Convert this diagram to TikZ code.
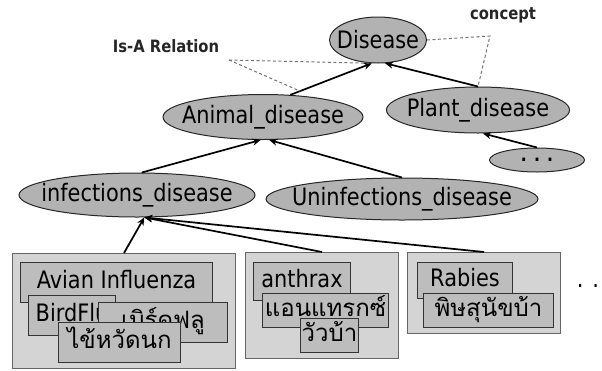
\documentclass[tikz,border=0pt]{standalone}
\usepackage{fontspec}
\setmainfont{DejaVu Sans}[FakeStretch=0.87]
\newfontfamily\thaifont[Script=Thai]{Loma}
\usepackage{xcolor}
\usetikzlibrary{arrows.meta, shapes.geometric}
\newcommand{\ctext}[1]{\makebox[0pt]{#1}}

\begin{document}
\begin{tikzpicture}[
  x=1pt, y=-1pt,
  font=\fontsize{24}{26}\selectfont,
  >={Stealth[length=8pt, width=7pt]},
  concept/.style={ellipse, draw=black!85, line width=1pt, fill=black!30, inner sep=0pt},
  isa/.style={->, line width=1.7pt},
  grp/.style={draw=black!60, line width=1pt, fill=black!17, anchor=north west, inner sep=0pt},
  term/.style={draw=black!80, line width=1pt, fill=black!26, anchor=north west,
               inner sep=0pt, text height=17pt, text depth=5pt},
  thai/.style={font=\thaifont\fontsize{24}{26}\selectfont},
  note/.style={font=\bfseries\fontsize{17}{19}\selectfont, text=black!85},
  hint/.style={black!55, line width=1pt, dash pattern=on 3pt off 2.5pt},
]
\useasboundingbox (0,0) rectangle (602,370);
% Level 1: root concept
\node[concept, minimum width=97pt, minimum height=46pt] (disease) at (378,40) {\ctext{Disease}};
% Level 2
\node[concept, minimum width=200pt, minimum height=45pt] (animal) at (263,117) {\ctext{Animal\_disease}};
\node[concept, minimum width=183pt, minimum height=46pt] (plant) at (478,110) {\ctext{Plant\_disease}};
\node[concept, minimum width=95pt, minimum height=24pt] (more) at (537,160)
      {\ctext{\bfseries\fontsize{18}{18}\selectfont . . .}};
% Level 3
\node[concept, minimum width=236pt, minimum height=44pt] (infect) at (137,195) {\ctext{infections\_disease}};
\node[concept, minimum width=272pt, minimum height=42pt] (uninfect) at (402,199) {\ctext{Uninfections\_disease}};
% instance groups
\node[grp, minimum width=223pt, minimum height=115pt] (grp1) at (12,253) {};
\node[term, minimum width=192pt, minimum height=40pt] (avian) at (20,262) {Avian Influenza};
\node[term, minimum width=87pt, minimum height=40pt] (birdflu) at (28,295) {BirdFlu};
\node[term, thai, minimum width=129pt, minimum height=40pt] (birdth) at (98,302) {เบิร์ดฟลู};
\node[term, thai, minimum width=122pt, minimum height=40pt] (avianth) at (58,322) {ไข้หวัดนก};

\node[grp, minimum width=153pt, minimum height=106pt] (grp2) at (245,252) {};
\node[term, minimum width=97pt, minimum height=38pt] (anthrax) at (253,262) {anthrax};
\node[term, thai, minimum width=126pt, minimum height=34pt] (anthth) at (262,293) {แอนแทรกซ์};
\node[term, thai, minimum width=58pt, minimum height=34pt] (cowth) at (300,318) {วัวบ้า};

\node[grp, minimum width=153pt, minimum height=81pt] (grp3) at (407,252) {};
\node[term, minimum width=95pt, minimum height=36pt] (rabies) at (417,262) {Rabies};
\node[term, thai, minimum width=130pt, minimum height=34pt] (rabth) at (423,293) {พิษสุนัขบ้า};

\node (etc) at (588,286) {. .};
% Is-A arrows
\draw[isa] (animal.39) -- coordinate[pos=0.12] (isamid) (disease.255);
\draw[isa] (plant.north) -- (disease.287);
\draw[isa] (infect.78) -- (animal.264);
\draw[isa] (uninfect.north) -- (animal.285);
\draw[isa] (more.north) -- (plant.282);
\draw[isa] (grp1.north) -- (infect.288);
\draw[isa] (grp2.north) -- (infect.288);
\draw[isa] (grp3.north) -- (infect.288);
% annotations
\node[note] (conceptlbl) at (503,15) {concept};
\node[note] (isalbl) at (166,46) {Is-A Relation};
\coordinate (cpt) at (490,36);
\coordinate (isapt) at (229,60);
\draw[hint] (disease.east) -- (cpt) -- (plant.north);
\draw[hint] (isapt) -- (disease.255);
\draw[hint] (isapt) -- (isamid);
\end{tikzpicture}
\end{document}
